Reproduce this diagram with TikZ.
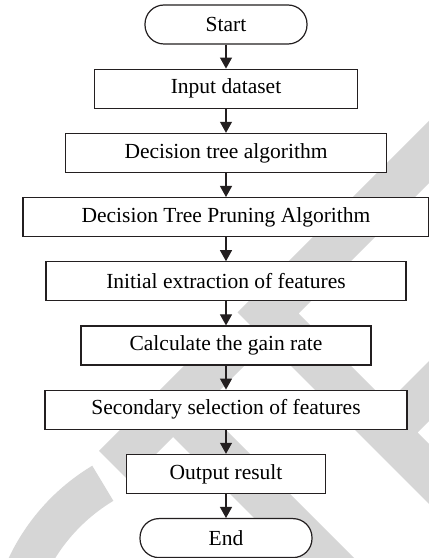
\documentclass[tikz,border=0pt]{standalone}
\usepackage{fontspec}
\setmainfont{Liberation Serif}
\usepackage{tikz}
\usetikzlibrary{arrows.meta, positioning}
\definecolor{wmgray}{HTML}{D6D6D6}
\definecolor{boxline}{HTML}{231F20}

\begin{document}
\begin{tikzpicture}[
    x=1pt, y=1pt,
    node distance=24pt,
    font=\fontsize{21.5}{24}\selectfont,
    block/.style={rectangle, draw=boxline, fill=white, line width=1.2pt, minimum height=39pt, inner sep=2pt},
    terminal/.style={block, rounded corners=19pt},
    arrow/.style={-{Triangle[length=11pt, width=12pt]}, line width=1.1pt, draw=boxline}
]
\useasboundingbox (0,0) rectangle (429,558);
% grey stamp letters behind the chart
\begin{scope}
\clip (0,0) rectangle (429,558);
\fill[wmgray] (203,-92) ++(121:215) arc[start angle=121, end angle=200, radius=215] -- ++(20:41) arc[start angle=200, end angle=121, radius=174] -- cycle;
\fill[wmgray] (99,107) -- (217,225) -- (247,195) -- (203,151) -- (459,-105) -- (429,-135) -- (173,121) -- (129,77) -- cycle;
\fill[wmgray] (237.5,245.5) -- (440,448) -- (471,417) -- (298.5,244.5) -- (387.5,155.5) -- (545,313) -- (575,283) -- (417.5,125.5) -- (553.5,-10.5) -- (523.5,-40.5) -- cycle;
\end{scope}

\node[terminal, minimum width=162pt] (start) at (226,533.5) {Start};
\node[block, minimum width=263pt, below=of start] (input) {Input dataset};
\node[block, minimum width=321pt, below=of input] (tree) {Decision tree algorithm};
\node[block, minimum width=406pt, below=of tree] (prune) {Decision Tree Pruning Algorithm};
\node[block, minimum width=360pt, below=of prune] (extract) {Initial extraction of features};
\node[block, minimum width=290pt, below=of extract] (gain) {Calculate the gain rate};
\node[block, minimum width=362pt, below=of gain] (select) {Secondary selection of features};
\node[block, minimum width=199pt, below=of select] (output) {Output result};
\node[terminal, minimum width=172pt, below=of output] (end) {End};

\draw[arrow] (start) -- (input);
\draw[arrow] (input) -- (tree);
\draw[arrow] (tree) -- (prune);
\draw[arrow] (prune) -- (extract);
\draw[arrow] (extract) -- (gain);
\draw[arrow] (gain) -- (select);
\draw[arrow] (select) -- (output);
\draw[arrow] (output) -- (end);
\end{tikzpicture}
\end{document}
